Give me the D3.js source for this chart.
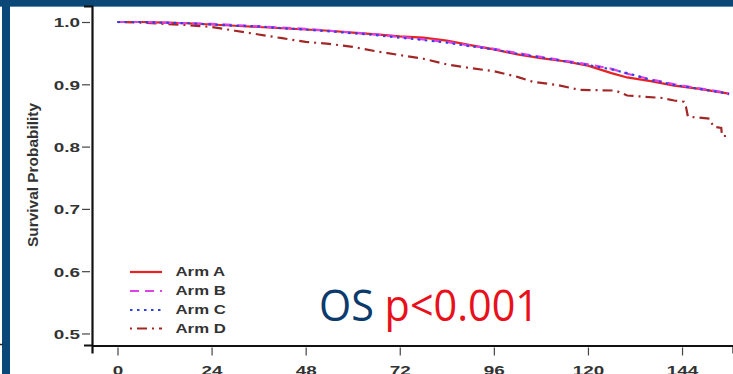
<!DOCTYPE html>
<html>
<head>
<meta charset="utf-8">
<script src="https://cdn.jsdelivr.net/npm/d3@7"></script>
<style>
  html, body { margin: 0; padding: 0; background: #fff; }
  svg { display: block; }
</style>
</head>
<body>
<svg id="chart" width="733" height="374"></svg>
<script>
// ---- data ----
const xTicks = [0, 24, 48, 72, 96, 120, 144];
const yTicks = [0.5, 0.6, 0.7, 0.8, 0.9, 1.0];
const armNames = ["Arm A", "Arm B", "Arm C", "Arm D"];

const monthsABC = [0, 6, 12, 18, 24, 30, 36, 42, 48, 54, 60, 66, 72, 78, 84, 90, 96, 102, 108, 114, 120, 126, 130, 136, 142, 148, 154, 156];
const survA = [1.0, 1.0, 0.999, 0.998, 0.996, 0.994, 0.992, 0.990, 0.988, 0.986, 0.983, 0.980, 0.977, 0.975, 0.970, 0.963, 0.956, 0.948, 0.942, 0.937, 0.930, 0.918, 0.911, 0.905, 0.898, 0.893, 0.887, 0.885];
const survB = [1.0, 1.0, 0.999, 0.998, 0.997, 0.995, 0.993, 0.991, 0.989, 0.986, 0.983, 0.980, 0.976, 0.972, 0.968, 0.962, 0.957, 0.950, 0.944, 0.938, 0.932, 0.925, 0.917, 0.908, 0.900, 0.894, 0.888, 0.885];
const survC = [1.0, 1.0, 0.999, 0.998, 0.996, 0.994, 0.993, 0.990, 0.988, 0.985, 0.982, 0.979, 0.975, 0.971, 0.967, 0.961, 0.956, 0.949, 0.943, 0.937, 0.931, 0.924, 0.918, 0.907, 0.899, 0.893, 0.887, 0.884];
const monthsD = [0, 6, 12, 18, 24, 30, 36, 42, 48, 54, 60, 66, 72, 78, 84, 90, 96, 102, 106, 112, 118, 127, 130, 139, 142, 144.5, 145, 145.5, 151, 152, 154, 154.2, 155.5];
const survD = [1.0, 0.999, 0.997, 0.995, 0.992, 0.986, 0.980, 0.974, 0.968, 0.965, 0.960, 0.953, 0.947, 0.941, 0.932, 0.926, 0.921, 0.912, 0.904, 0.899, 0.891, 0.890, 0.882, 0.878, 0.874, 0.872, 0.864, 0.848, 0.845, 0.832, 0.830, 0.817, 0.817];

const armColors = ["#e82222", "#e040ec", "#3340e0", "#a32626"];
const armDashes = [null, "9,6", "2.5,4.5", "2,5,10,5"];

// ---- setup ----
const svg = d3.select("#chart");
const navy = "#0b4777";

const x = d3.scaleLinear().domain([-6.5, 157]).range([92, 733]);
const y = d3.scaleLinear().domain([0.4815, 1.0257]).range([345, 6]);

// frame
svg.append("rect").attr("x", 0).attr("y", 0).attr("width", 733).attr("height", 6).attr("fill", navy);
svg.append("rect").attr("x", 0).attr("y", 6).attr("width", 733).attr("height", 1).attr("fill", "#5b8ab3");
svg.append("rect").attr("x", 2).attr("y", 0).attr("width", 8).attr("height", 374).attr("fill", navy);
svg.append("line").attr("x1", 0).attr("x2", 3).attr("y1", 344.5).attr("y2", 344.5).attr("stroke", "#222").attr("stroke-width", 1.5);

const tickFont = "'Liberation Sans', Arial, sans-serif";

// y axis
const gy = svg.append("g").attr("transform", "translate(92,0)")
  .call(d3.axisLeft(y).tickValues(yTicks).tickFormat(d3.format(".1f")).tickSizeOuter(0).tickSize(8));
gy.select(".domain").attr("stroke", "#111").attr("stroke-width", 2.2);
gy.selectAll(".tick line").attr("x1", -2).attr("x2", -10).attr("stroke", "#444").attr("stroke-width", 1.2);
gy.selectAll(".tick text")
  .attr("x", -12 / 1.4).attr("dy", "0.36em")
  .attr("transform", "scale(1.4,1)")
  .attr("font-family", tickFont).attr("font-size", 13.5).attr("font-weight", "bold").attr("fill", "#333");

// x axis
const gx = svg.append("g").attr("transform", "translate(0,345.5)")
  .call(d3.axisBottom(x).tickValues(xTicks).tickFormat(d3.format("d")).tickSizeOuter(0).tickSize(8));
gx.select(".domain").attr("stroke", "#111").attr("stroke-width", 2.2);
gx.selectAll(".tick line").attr("y1", 2).attr("y2", 10).attr("stroke", "#444").attr("stroke-width", 1.2);
gx.selectAll(".tick text")
  .attr("x", 0).attr("y", 29.5).attr("dy", 0)
  .attr("transform", "scale(1.4,1)")
  .attr("font-family", tickFont).attr("font-size", 13.5).attr("font-weight", "bold").attr("fill", "#333");

// y label
svg.append("g").attr("transform", "translate(38,175) scale(1.4,1) rotate(-90)")
  .append("text")
  .attr("text-anchor", "middle")
  .attr("font-family", tickFont).attr("font-size", 10.5).attr("font-weight", "bold").attr("fill", "#333")
  .attr("textLength", 144).attr("lengthAdjust", "spacingAndGlyphs")
  .text("Survival Probability");

// curves
const series = [
  { months: monthsABC, surv: survA },
  { months: monthsABC, surv: survB },
  { months: monthsABC, surv: survC },
  { months: monthsD, surv: survD }
];
const line = d3.line().x(d => x(d[0])).y(d => y(d[1])).curve(d3.curveLinear);
const drawOrder = [3, 0, 1, 2];
drawOrder.forEach(i => {
  const s = series[i];
  const pts = s.months.map((m, k) => [m, s.surv[k]]);
  svg.append("path")
    .attr("d", line(pts))
    .attr("fill", "none")
    .attr("stroke", armColors[i])
    .attr("stroke-width", 2.2)
    .attr("stroke-dasharray", armDashes[i]);
});

// legend
const legendY = [272, 291, 310, 328.5];
armNames.forEach((name, i) => {
  svg.append("line")
    .attr("x1", 130).attr("x2", 162).attr("y1", legendY[i]).attr("y2", legendY[i])
    .attr("stroke", armColors[i]).attr("stroke-width", 2.2)
    .attr("stroke-dasharray", armDashes[i]);
  svg.append("g").attr("transform", `translate(175.5,${legendY[i]})`)
    .append("text")
    .attr("transform", "scale(1.4,1)")
    .attr("dy", "0.36em")
    .attr("font-family", tickFont).attr("font-size", 12).attr("font-weight", "bold").attr("fill", "#333")
    .text(name);
});

// annotation
const ann = svg.append("text")
  .attr("x", 319).attr("y", 321)
  .attr("font-family", "'Open Sans', 'Noto Sans', sans-serif")
  .attr("font-size", 43)
  .attr("textLength", 220).attr("lengthAdjust", "spacingAndGlyphs");
ann.append("tspan").attr("fill", "#0b3a6c").text("OS ");
ann.append("tspan").attr("fill", "#e8101a").text("p<0.001");
</script>
</body>
</html>
